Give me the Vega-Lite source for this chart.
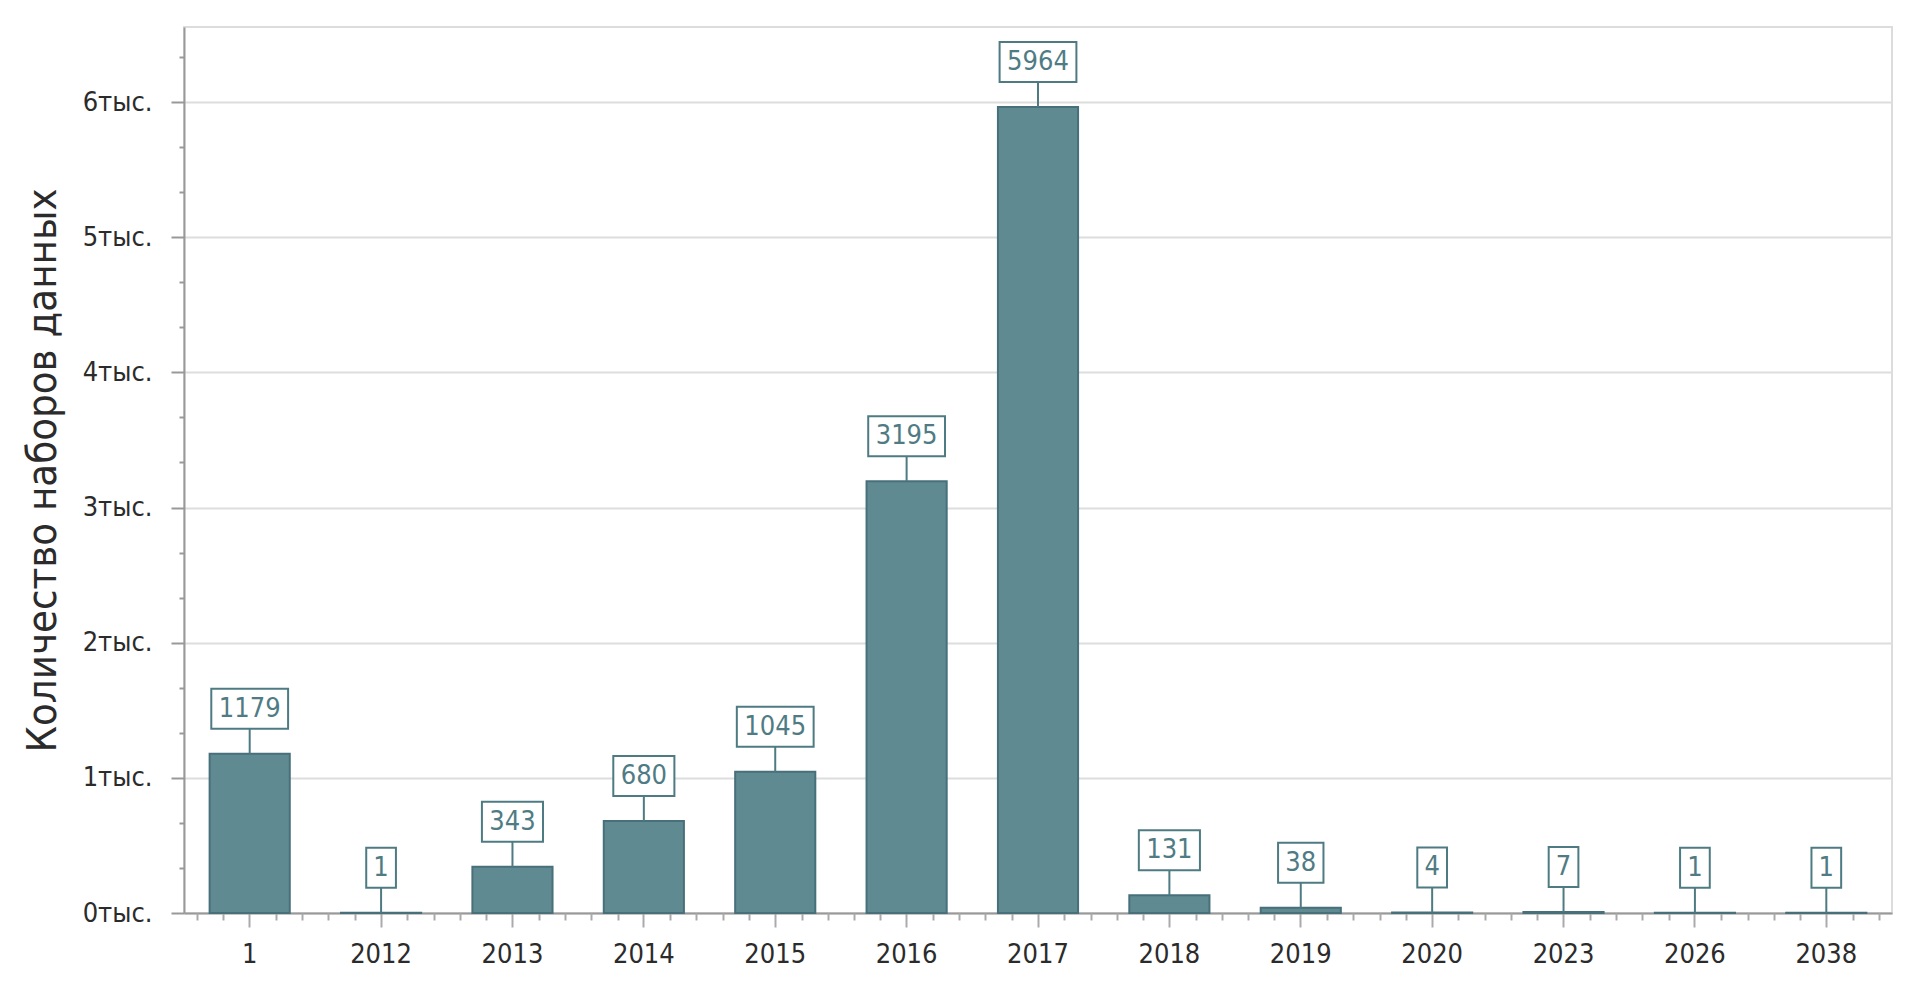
{
  "$schema": "https://vega.github.io/schema/vega-lite/v6.json",
  "width": 1708,
  "height": 886,
  "autosize": {"type": "none"},
  "padding": {"left": 184, "top": 27, "right": 28, "bottom": 76},
  "background": "white",
  "config": {
    "view": {"stroke": "#dcdcdc", "strokeWidth": 2},
    "font": "DejaVu Sans Condensed, DejaVu Sans, sans-serif"
  },
  "data": {
    "values": [
      {"year": "1", "count": 1179},
      {"year": "2012", "count": 1},
      {"year": "2013", "count": 343},
      {"year": "2014", "count": 680},
      {"year": "2015", "count": 1045},
      {"year": "2016", "count": 3195},
      {"year": "2017", "count": 5964},
      {"year": "2018", "count": 131},
      {"year": "2019", "count": 38},
      {"year": "2020", "count": 4},
      {"year": "2023", "count": 7},
      {"year": "2026", "count": 1},
      {"year": "2038", "count": 1}
    ]
  },
  "resolve": {"axis": {"x": "independent"}},
  "layer": [
    {
      "mark": {"type": "bar", "fill": "#5f8a91", "stroke": "#48707a", "strokeWidth": 2},
      "encoding": {
        "x": {
          "field": "year", "type": "nominal", "sort": null,
          "scale": {"paddingInner": 0.39, "paddingOuter": 0.195},
          "axis": {
            "orient": "bottom", "title": null, "labelAngle": 0,
            "labelFont": "DejaVu Sans Condensed, DejaVu Sans, sans-serif",
            "labelFontSize": 27, "labelColor": "#2b2b2b", "labelPadding": 14,
            "tickSize": 14, "tickColor": "#aaaaaa", "tickWidth": 2,
            "domainColor": "#999999", "domainWidth": 2, "grid": false
          }
        },
        "y": {
          "field": "count", "type": "quantitative",
          "scale": {"domain": [0, 6555], "nice": false},
          "axis": {
            "title": "Количество наборов данных",
            "titleFont": "DejaVu Sans Condensed, DejaVu Sans, sans-serif",
            "titleFontSize": 41.5, "titleFontWeight": "normal", "titleColor": "#2b2b2b",
            "titleX": -129, "titleBaseline": "alphabetic",
            "values": [0, 333.3333, 666.6667, 1000, 1333.3333, 1666.6667, 2000, 2333.3333, 2666.6667, 3000, 3333.3333, 3666.6667, 4000, 4333.3333, 4666.6667, 5000, 5333.3333, 5666.6667, 6000, 6333.3333],
            "labelExpr": "datum.value % 1000 === 0 ? (datum.value / 1000) + 'тыс.' : ''",
            "labelFont": "DejaVu Sans Condensed, DejaVu Sans, sans-serif",
            "labelFontSize": 27, "labelColor": "#2b2b2b", "labelPadding": 19,
            "tickSize": {"condition": {"test": "datum.value % 1000 === 0", "value": 13}, "value": 5},
            "tickColor": "#999999", "tickWidth": 2,
            "domainColor": "#999999", "domainWidth": 2,
            "grid": true, "gridColor": "#dddddd", "gridWidth": 2,
            "gridOpacity": {"condition": {"test": "datum.value % 1000 === 0", "value": 1}, "value": 0}
          }
        }
      }
    },
    {
      "mark": {"type": "rule", "stroke": "#4e7b82", "strokeWidth": 2, "y2Offset": -25},
      "encoding": {
        "x": {
          "field": "year", "type": "nominal", "sort": null,
          "axis": {"orient": "bottom", "title": null, "labels": false, "domain": false, "grid": false, "tickSize": 7, "tickColor": "#aaaaaa", "tickWidth": 2, "tickOffset": 26.3}
        },
        "y": {"field": "count", "type": "quantitative"},
        "y2": {"field": "count"}
      }
    },
    {
      "mark": {"type": "bar", "fill": "white", "stroke": "#4e7b82", "strokeWidth": 2, "yOffset": -25, "y2Offset": -65, "size": {"expr": "length(toString(datum.count)) * 15.7 + 14"}},
      "encoding": {
        "x": {
          "field": "year", "type": "nominal", "sort": null,
          "axis": {"orient": "bottom", "title": null, "labels": false, "domain": false, "grid": false, "tickSize": 7, "tickColor": "#aaaaaa", "tickWidth": 2, "tickOffset": 52.6}
        },
        "y": {"field": "count", "type": "quantitative"},
        "y2": {"field": "count"}
      }
    },
    {
      "mark": {"type": "text", "font": "DejaVu Sans Condensed, DejaVu Sans, sans-serif", "fontSize": 27, "fill": "#4f7c84", "baseline": "middle", "align": "center", "yOffset": -45},
      "encoding": {
        "x": {
          "field": "year", "type": "nominal", "sort": null,
          "axis": {"orient": "bottom", "title": null, "labels": false, "domain": false, "grid": false, "tickSize": 7, "tickColor": "#aaaaaa", "tickWidth": 2, "tickOffset": -26.3}
        },
        "y": {"field": "count", "type": "quantitative"},
        "text": {"field": "count", "type": "quantitative", "format": "d"}
      }
    },
    {
      "mark": {"type": "rule", "strokeOpacity": 0},
      "encoding": {
        "x": {
          "field": "year", "type": "nominal", "sort": null,
          "axis": {"orient": "bottom", "title": null, "labels": false, "domain": false, "grid": false, "tickSize": 7, "tickColor": "#aaaaaa", "tickWidth": 2, "tickOffset": -52.6}
        }
      }
    }
  ]
}
